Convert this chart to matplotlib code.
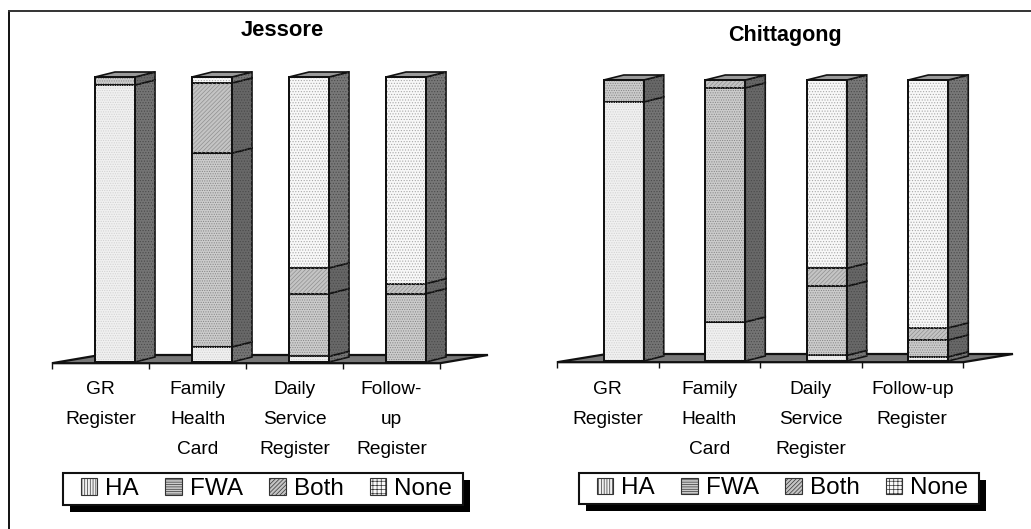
import matplotlib
matplotlib.use("Agg")
import matplotlib.pyplot as plt
from matplotlib.lines import Line2D
from matplotlib.patches import Polygon, Rectangle, Patch

plt.rcParams['font.family'] = ['Liberation Sans', 'DejaVu Sans']
plt.rcParams['hatch.linewidth'] = 0.5

W, H = 1031, 529

series = ['HA', 'FWA', 'Both', 'None']

jessore_labels = ['GR\nRegister', 'Family\nHealth\nCard', 'Daily\nService\nRegister', 'Follow-\nup\nRegister']
jessore_ha = [97.2, 5.3, 2.0, 0.0]
jessore_fwa = [2.8, 68.0, 22.0, 24.0]
jessore_both = [0.0, 24.6, 9.0, 3.5]
jessore_none = [0.0, 2.1, 67.0, 72.5]

chitt_labels = ['GR\nRegister', 'Family\nHealth\nCard', 'Daily\nService\nRegister', 'Follow-up\nRegister']
chitt_ha = [92.2, 13.9, 2.0, 1.5]
chitt_fwa = [7.8, 83.3, 24.6, 6.0]
chitt_both = [0.0, 2.8, 6.4, 4.3]
chitt_none = [0.0, 0.0, 67.0, 88.2]

face = {'HA': '#f0f0f0', 'FWA': '#cccccc', 'Both': '#c4c4c4', 'None': '#f8f8f8'}
side = {'HA': '#747474', 'FWA': '#686868', 'Both': '#666666', 'None': '#787878'}
# the bars look dotted, the legend keys show the real pattern
hatch_bar = {'HA': '.......', 'FWA': '.......', 'Both': '////////', 'None': '......'}
hatch_key = {'HA': '||||||', 'FWA': '-------', 'Both': '////////', 'None': '++++'}
hatch_col = {'HA': '#d0d0d0', 'FWA': '#858585', 'Both': '#909090', 'None': '#a8a8a8'}


def px_axes(x0, x1, ybase, ytop):
    return fig.add_axes([x0 / W, 1 - ybase / H, (x1 - x0) / W, (ybase - ytop) / H])


def draw_panel(rect, labels, stacks, title, title_xy, title_size, shift, legend_box, legend_cx, floor_back):
    x0, x1, ybase, ytop = rect
    ax = px_axes(x0, x1, ybase, ytop)
    ax.set_xlim(-0.5, 3.5)
    ax.set_ylim(0, 100)
    ax.patch.set_alpha(0)
    for s in ax.spines.values():
        s.set_visible(False)
    ax.set_yticks([])
    ax.set_xticks([-0.5, 0.5, 1.5, 2.5, 3.5])
    ax.set_xticklabels([])
    ax.tick_params(axis='x', length=5, width=1.0, color='#111111')

    upx = (x1 - x0) / 4.0          # pixels per category
    vpx = (ybase - ytop) / 100.0   # pixels per percent
    dx = 20 / upx
    dy = 5 / vpx
    bw = 40 / upx

    # floor
    fl = 1.2 / vpx
    ax.add_patch(Polygon([(-0.5, -fl), (3.5, -fl), (3.5 + floor_back / upx, 7 / vpx),
                          (-0.5 + floor_back / upx, 7 / vpx)],
                         closed=True, fc='#777777', ec='#111111', lw=1.6, clip_on=False, zorder=1))

    for i in range(4):
        bl = i + shift / upx - bw / 2
        bottom = 0.0
        for name, vals in zip(series, stacks):
            v = vals[i]
            if v <= 0:
                continue
            top = bottom + v
            ax.add_patch(Rectangle((bl, bottom), bw, v, fc=face[name], ec='#111111', lw=1.4,
                                   clip_on=False, zorder=3))
            ax.add_patch(Rectangle((bl, bottom), bw, v, fc='none', ec=hatch_col[name], lw=0,
                                   hatch=hatch_bar[name], clip_on=False, zorder=3.1))
            pts = [(bl + bw, bottom), (bl + bw + dx, bottom + dy), (bl + bw + dx, top + dy), (bl + bw, top)]
            ax.add_patch(Polygon(pts, closed=True, fc=side[name], ec='#111111', lw=1.2,
                                 clip_on=False, zorder=3))
            ax.add_patch(Polygon(pts, closed=True, fc='none', ec='#4a4a4a', lw=0, hatch='......',
                                 clip_on=False, zorder=3.1))
            bottom = top
        ax.add_patch(Polygon([(bl, bottom), (bl + dx, bottom + dy), (bl + bw + dx, bottom + dy),
                              (bl + bw, bottom)],
                             closed=True, fc='#9a9a9a', ec='#111111', lw=1.2, clip_on=False, zorder=3))
        # redraw the front outline over the hatching
        ax.add_patch(Rectangle((bl, 0), bw, bottom, fc='none', ec='#111111', lw=1.4,
                               clip_on=False, zorder=3.2))

    for i, lab in enumerate(labels):
        for j, line in enumerate(lab.split('\n')):
            ax.annotate(line, xy=(i, 0), xycoords='data', xytext=(0, -(28 + 30 * j) * 0.72),
                        textcoords='offset points', ha='center', va='center',
                        fontsize=13.8, color='black')

    fig.text(title_xy[0] / W, 1 - title_xy[1] / H, title, ha='center', va='center',
             fontsize=title_size, fontweight='bold', color='black')

    # legend box and its hard shadow, the legend itself goes on top without a frame
    lx0, ly0, lx1, ly1 = legend_box
    fig.add_artist(Rectangle(((lx0 + 7) / W, 1 - (ly1 + 7) / H), (lx1 - lx0) / W, (ly1 - ly0) / H,
                             transform=fig.transFigure, fc='black', ec='black', lw=0))
    fig.add_artist(Rectangle((lx0 / W, 1 - ly1 / H), (lx1 - lx0) / W, (ly1 - ly0) / H,
                             transform=fig.transFigure, fc='white', ec='#111111', lw=1.5))
    handles = [Patch(fc=face[n], ec='#333333', lw=0.8, hatch=hatch_key[n]) for n in series]
    fig.legend(handles, series, ncol=4, loc='center',
               bbox_to_anchor=(legend_cx / W, 1 - (ly0 + ly1) / 2 / H),
               fontsize=17.5, frameon=False,
               handlelength=0.68, handleheight=0.68, handletextpad=0.33,
               columnspacing=1.08, borderpad=0, borderaxespad=0)


fig = plt.figure(figsize=(W / 100, H / 100), dpi=100, facecolor='white')

# only a top and a left rule are visible in the reference
fig.add_artist(Line2D([8.5 / W, 8.5 / W], [0, 1 - 10.5 / H], transform=fig.transFigure, color='#111111', lw=1.4))
fig.add_artist(Line2D([8.5 / W, 1], [1 - 10.5 / H, 1 - 10.5 / H], transform=fig.transFigure, color='#333333', lw=1.4))

draw_panel((52, 440, 362, 77), jessore_labels, [jessore_ha, jessore_fwa, jessore_both, jessore_none],
           'Jessore', (282, 31), 15.8, 14.5, (63, 473, 463, 505), 266.5, 48)
draw_panel((557, 963, 361, 80), chitt_labels, [chitt_ha, chitt_fwa, chitt_both, chitt_none],
           'Chittagong', (785, 36), 15.5, 16, (579, 473, 979, 504), 782.5, 50)

fig.savefig('out.png', dpi=100)
